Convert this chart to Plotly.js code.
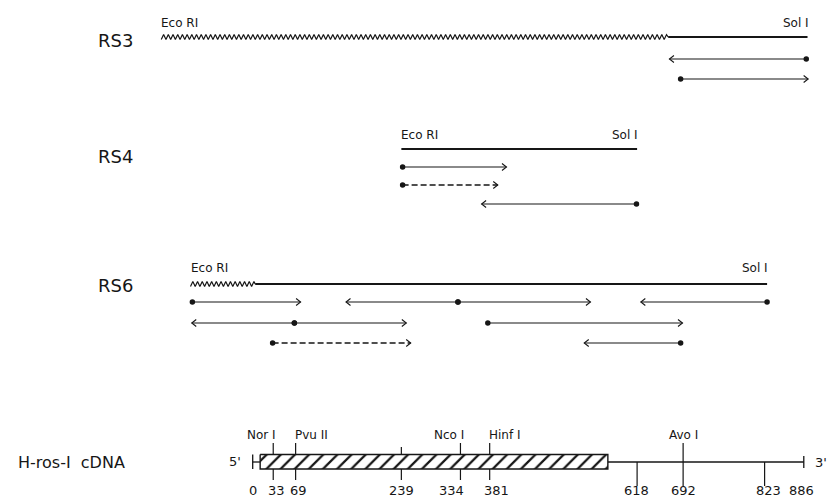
<!DOCTYPE html>
<html>
<head>
<meta charset="utf-8">
<script src="https://cdn.plot.ly/plotly-3.0.1.min.js"></script>
<style>html,body{margin:0;padding:0;background:#fff}#chart{width:827px;height:497px}</style>
</head>
<body>
<div id="chart"></div>
<script>
// ---------------- DATA (positions in bp on the cDNA scale) ----------------
const clones   = ['RS3', 'RS4', 'RS6'];
const ecoRI    = [-147, 239, -100];   // left (EcoRI) end of each clone
const wavyEnd  = [668, 239, 4];       // end of the wavy (vector/flanking) part
const salI     = [892, 618, 827];     // right (SalI) end of each clone

// sequencing runs: clone index, row within clone, origin (dot), tip, dashed?
const runClone  = [0, 0,   1, 1, 1,   2, 2, 2, 2,   2, 2, 2,   2, 2];
const runRow    = [0, 1,   0, 1, 2,   0, 0, 0, 0,   1, 1, 1,   2, 2];
const runFrom   = [890, 688, 241, 241, 617, -97, 330, 330, 827, 67, 67, 378, 32, 688];
const runTo     = [670, 893, 408, 394, 368, 77, 150, 543, 624, -98, 247, 691, 254, 533];
const runDashed = [0, 0,   0, 1, 0,   0, 0, 0, 0,   0, 0, 0,   1, 0];

// H-ras-1 cDNA
const cdnaLength   = 886;
const codingRegion = [12, 571];
const siteNames    = ['Nor I', 'Pvu II', 'Nco I', 'Hinf I', 'Avo I'];
const sitePos      = [33, 69, 334, 381, 692];
const tickPos      = [33, 69, 239, 334, 381, 618, 692, 823];
const tickLabels   = ['0', '33', '69', '239', '334', '381', '618', '692', '823', '886'];
const tickLabelPos = [0, 33, 69, 239, 334, 381, 618, 692, 823, 886];

// ---------------- LAYOUT CONSTANTS ----------------
const W = 827, H = 497;
const X0PX = 252.7, PXPERBP = 0.622;
const xRange = [-X0PX / PXPERBP, (W - X0PX) / PXPERBP];
const pxToBp = p => p / PXPERBP;
const cloneLineY  = [37, 149, 284];
const cloneRowY   = [[59, 79], [167, 185, 204], [302, 323, 343]];
const cloneLabelY = [40, 156, 285];
const enzLabelY   = [23, 135, 268];
const cdnaY = 462, boxTop = 454.5, boxBot = 469;
const INK = '#161616';
const FONT = 'DejaVu Sans, Liberation Sans, sans-serif';

const traces = [];

// wavy parts (zigzag drawing style)
const wx = [], wy = [];
clones.forEach((c, i) => {
  if (wavyEnd[i] <= ecoRI[i]) return;
  const step = pxToBp(2.35);
  let k = 0;
  for (let x = ecoRI[i]; x <= wavyEnd[i]; x += step, k++) {
    wx.push(x); wy.push(cloneLineY[i] + (k % 2 ? -2.4 : 2.4));
  }
  wx.push(wavyEnd[i]); wy.push(cloneLineY[i]);
  wx.push(null); wy.push(null);
});
traces.push({x: wx, y: wy, mode: 'lines', line: {color: INK, width: 1.2}, hoverinfo: 'skip'});

// straight parts of the clones
const sx = [], sy = [];
clones.forEach((c, i) => {
  sx.push(wavyEnd[i], salI[i], null); sy.push(cloneLineY[i], cloneLineY[i], null);
});
traces.push({x: sx, y: sy, mode: 'lines', line: {color: INK, width: 1.8}, hoverinfo: 'skip'});

// sequencing arrows
const solid = {x: [], y: []}, dashed = {x: [], y: []}, heads = {x: [], y: []}, dots = {x: [], y: []};
runFrom.forEach((f, j) => {
  const y = cloneRowY[runClone[j]][runRow[j]];
  const t = runTo[j];
  const tgt = runDashed[j] ? dashed : solid;
  tgt.x.push(f, t, null); tgt.y.push(y, y, null);
  const d = Math.sign(t - f), L = pxToBp(4.5);
  heads.x.push(t - d * L, t, t - d * L, null); heads.y.push(y - 3.5, y, y + 3.5, null);
  dots.x.push(f); dots.y.push(y);
});
traces.push({x: solid.x, y: solid.y, mode: 'lines', line: {color: INK, width: 1.1}, hoverinfo: 'skip'});
traces.push({x: dashed.x, y: dashed.y, mode: 'lines', line: {color: INK, width: 1.3, dash: '6px,3px'}, hoverinfo: 'skip'});
traces.push({x: heads.x, y: heads.y, mode: 'lines', line: {color: INK, width: 1.1}, hoverinfo: 'skip'});
traces.push({x: dots.x, y: dots.y, mode: 'markers', marker: {color: INK, size: 5.5, symbol: 'circle'}, hoverinfo: 'skip'});

// cDNA: line, caps, coding box
traces.push({x: [codingRegion[1], cdnaLength, null, 0, codingRegion[0], null, 0, 0, null, cdnaLength, cdnaLength],
             y: [cdnaY, cdnaY, null, cdnaY, cdnaY, null, boxTop, boxBot, null, cdnaY - 6, cdnaY + 6],
             mode: 'lines', line: {color: INK, width: 1.3}, hoverinfo: 'skip'});
traces.push({x: [codingRegion[0], codingRegion[1], codingRegion[1], codingRegion[0], codingRegion[0]],
             y: [boxTop, boxTop, boxBot, boxBot, boxTop],
             mode: 'lines', fill: 'toself', fillcolor: '#fff',
             fillpattern: {shape: '/', size: 10, solidity: 0.22, fgcolor: INK, bgcolor: '#fff'},
             line: {color: INK, width: 1.4}, hoverinfo: 'skip'});
// site ticks
const tx = [], ty = [];
tickPos.forEach(p => {
  const inBox = p >= codingRegion[0] && p <= codingRegion[1];
  const labelled = sitePos.includes(p);
  if (inBox) {
    tx.push(p, p, null, p, p, null);
    ty.push(labelled ? 443 : 447, boxTop, null, boxBot, 480, null);
  } else {
    tx.push(p, p, null);
    ty.push(labelled ? 443 : cdnaY, 486, null);
  }
});
traces.push({x: tx, y: ty, mode: 'lines', line: {color: INK, width: 1.2}, hoverinfo: 'skip'});

// ---------------- TEXT ----------------
const ann = [];
const txt = (x, y, text, size, xanchor, extra) => Object.assign({
  x, y, text, xref: 'x', yref: 'y', showarrow: false, xanchor: xanchor || 'center', yanchor: 'middle',
  font: {family: FONT, size, color: INK}
}, extra || {});

clones.forEach((c, i) => {
  ann.push(txt(0, cloneLabelY[i], c, 18, 'left', {xref: 'paper', x: 96 / W}));
  ann.push(txt(ecoRI[i], enzLabelY[i], 'Eco RI', 12, 'left', {xshift: -2}));
  ann.push(txt(salI[i], enzLabelY[i], 'Sol I', 12, 'right', {xshift: 3}));
});
ann.push(txt(0, cdnaY, 'H-ros-I  cDNA', 16, 'left', {xref: 'paper', x: 16 / W}));
ann.push(txt(0, cdnaY - 1, "5'", 13, 'right', {xshift: -10}));
ann.push(txt(cdnaLength, cdnaY, "3'", 13, 'left', {xshift: 9}));

const siteAnchor = ['right', 'left', 'right', 'left', 'center'];
const siteShift  = [5, -3, 6, -3, 0];
siteNames.forEach((n, k) => {
  ann.push(txt(sitePos[k], 435, n, 12, siteAnchor[k], {xshift: siteShift[k]}));
});
const numShift = [0, 3, 3, 0, -9, 7, -1, 0, 4, -2];
tickLabels.forEach((t, k) => {
  ann.push(txt(tickLabelPos[k], 490, t, 13, 'center', {xshift: numShift[k]}));
});

const layout = {
  width: W, height: H,
  margin: {l: 0, r: 0, t: 0, b: 0, pad: 0},
  paper_bgcolor: '#fff', plot_bgcolor: '#fff',
  showlegend: false,
  xaxis: {range: xRange, visible: false, fixedrange: true},
  yaxis: {range: [H, 0], visible: false, fixedrange: true},
  annotations: ann
};
Plotly.newPlot('chart', traces, layout, {staticPlot: true, displayModeBar: false});
</script>
</body>
</html>
